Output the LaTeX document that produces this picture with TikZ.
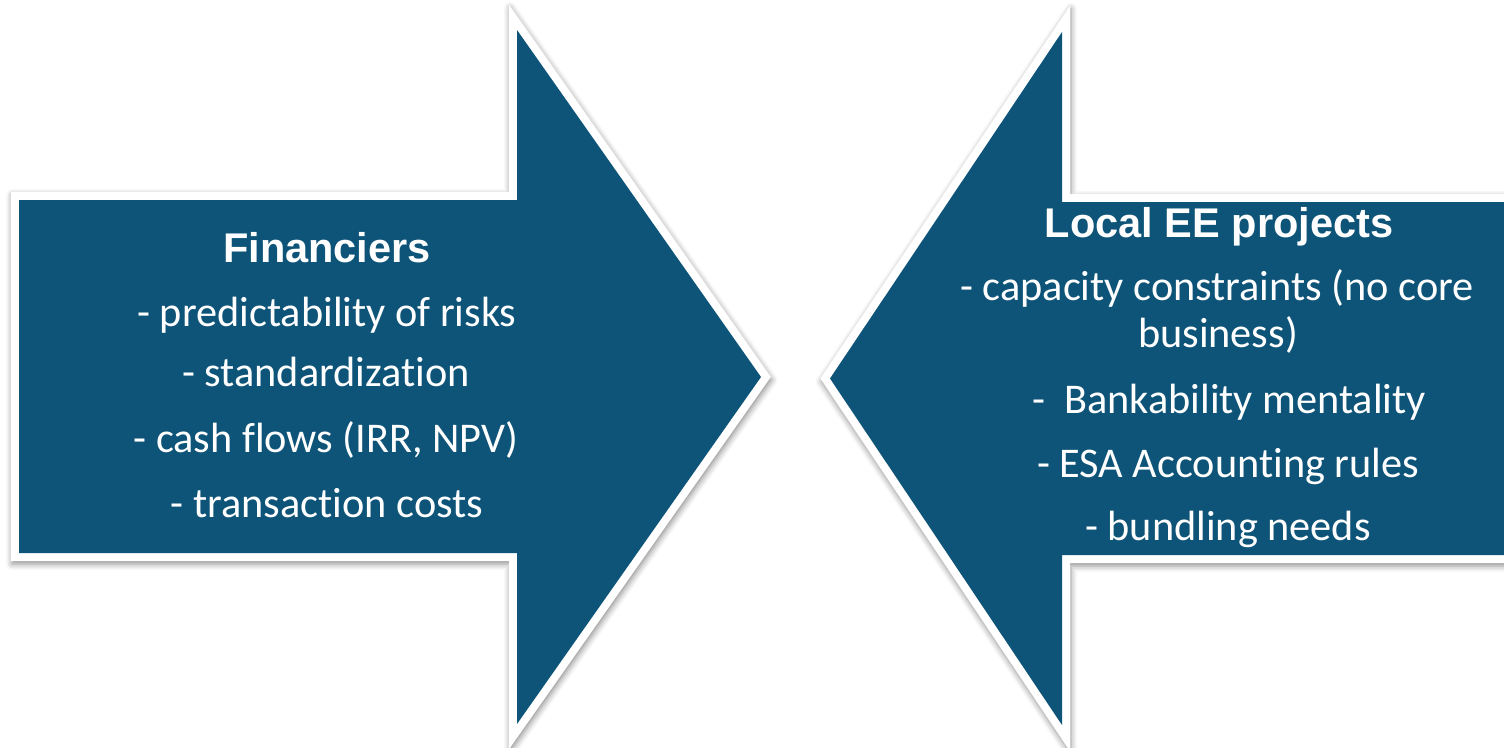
\documentclass[tikz,border=0pt]{standalone}
\usepackage{fontspec}
\setmainfont[Ligatures={NoCommon,NoContextual}]{Carlito}
\newfontfamily\titlefont{Liberation Sans}
\usetikzlibrary{shadows.blur}
\definecolor{arrowblue}{HTML}{0E5478}
\begin{document}
\begin{tikzpicture}[x=1pt,y=-1pt,
  bodytext/.style={text=white, font=\fontsize{42.3}{50}\selectfont, anchor=base, inner sep=0pt},
  titletext/.style={text=white, font=\titlefont\bfseries\fontsize{41.5}{49}\selectfont, anchor=base, inner sep=0pt},
  arrowborder/.style={fill=white, blur shadow={shadow xshift=1pt, shadow yshift=-3pt, shadow blur radius=6pt, shadow opacity=45}},
  arrowfill/.style={fill=arrowblue}]
\useasboundingbox (0,0) rectangle (1504,747);
\clip (0,0) rectangle (1504,747);
% left arrow (Financiers)
\path[arrowborder] (11,192) -- (509,192) -- (509,4.8) -- (770.8,377) -- (509,749.2) -- (509,561) -- (11,561) -- cycle;
\path[arrowfill] (19,200) -- (517,200) -- (517,30) -- (761,377) -- (517,724) -- (517,553) -- (19,553) -- cycle;
% right arrow (Local EE projects)
\path[arrowborder] (1560,194) -- (1070,194) -- (1070,5.75) -- (820.4,378.5) -- (1070,751.25) -- (1070,563) -- (1560,563) -- cycle;
\path[arrowfill] (1560,202) -- (1062,202) -- (1062,32) -- (830,378.5) -- (1062,725) -- (1062,555) -- (1560,555) -- cycle;
% left texts
\node[titletext] (ftitle) at (327,262) {Financiers};
\node[bodytext] (f1) at (327,326) {- predictability of risks};
\node[bodytext] (f2) at (326,386) {- standardization};
\node[bodytext] (f3) at (326,452) {- cash flows (IRR, NPV)};
\node[bodytext] (f4) at (327,517) {- transaction costs};
% right texts
\node[titletext] (ltitle) at (1219,237) {Local EE projects};
\node[bodytext] (l1) at (1217,300) {- capacity constraints (no core};
\node[bodytext] (l1b) at (1218,347) {business)};
\node[bodytext] (l2) at (1229,413) {-~~Bankability mentality};
\node[bodytext] (l3) at (1228,477) {- ESA Accounting rules};
\node[bodytext] (l4) at (1228,540) {- bundling needs};
\end{tikzpicture}
\end{document}
